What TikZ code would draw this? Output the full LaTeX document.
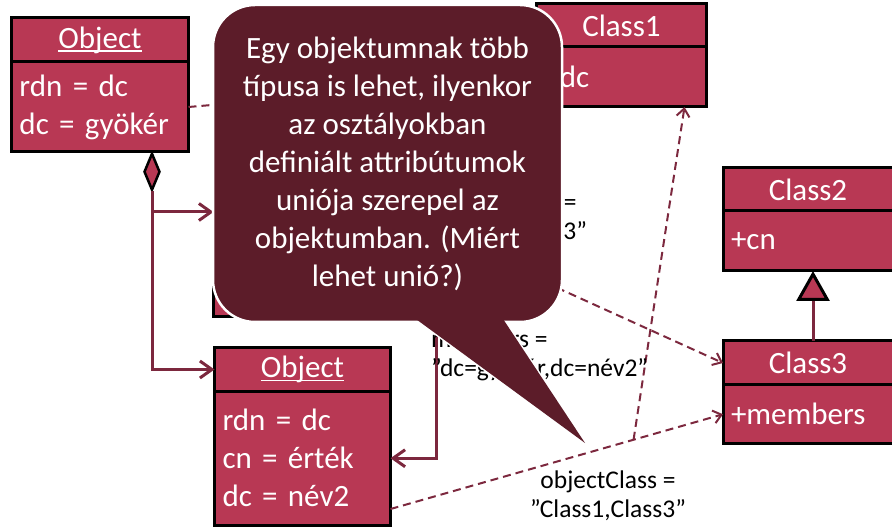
\documentclass[tikz,border=0pt]{standalone}
\usepackage{fontspec}
\setmainfont{Carlito}
\usetikzlibrary{arrows.meta,positioning,shapes.geometric,calc}
\definecolor{umlred}{RGB}{184,56,84}
\definecolor{notebg}{RGB}{92,28,41}
\definecolor{linkcol}{RGB}{124,40,62}
\newcommand{\uobj}[1]{\setbox0\hbox{#1}\rlap{\rule[-3.5pt]{\wd0}{1.3pt}}\box0}

\begin{document}
\begin{tikzpicture}[x=1pt,y=-1pt,
  hdr/.style={draw=black,line width=3pt,fill=umlred,text=white,inner sep=0pt,outer sep=0pt,font=\fontsize{31}{38}\selectfont},
  attr/.style={hdr,align=left,inner xsep=8pt},
  dmd/.style={diamond,draw=black,line width=2.5pt,fill=umlred,inner sep=0pt,minimum width=16pt,minimum height=37pt},
  comp/.style={draw=linkcol,line width=3pt,-{Straight Barb[length=12pt,width=17pt]}},
  dep/.style={draw=linkcol,line width=2pt,dash pattern=on 8pt off 5pt,-{Straight Barb[length=8pt,width=13pt]}},
  gen/.style={draw=linkcol,line width=3pt,-{Triangle[length=30pt,width=33pt,fill=umlred,color=black,line width=3pt]}},
  lbl/.style={font=\fontsize{25.5}{29}\selectfont,inner sep=0pt},
  note/.style={rounded corners=42pt,fill=notebg,draw=white,line width=2.5pt,text=white,align=center,
    font=\fontsize{31}{38}\selectfont,minimum width=349pt,minimum height=317pt,inner sep=0pt}
]
\useasboundingbox (0,0) rectangle (892,529);

% objects
\node[hdr,minimum width=177pt,minimum height=44pt] (o1h) at (100,40) {\uobj{Object}};
\node[attr,below=0pt of o1h,text width=161pt,minimum height=90pt] (o1b) {rdn = dc\\dc = gyökér};
\node[hdr,minimum width=225pt,minimum height=44pt] (midh) at (326,212) {};
\node[attr,below=0pt of midh,text width=209pt,minimum height=82.5pt] (midb) {};
\node[hdr,minimum width=176pt,minimum height=44pt] (o3h) at (302.5,369.5) {\uobj{Object}};
\node[attr,below=0pt of o3h,text width=160pt,minimum height=133.5pt] (o3b) {rdn = dc\\cn = érték\\dc = név2};

% classes
\node[hdr,minimum width=170pt,minimum height=43pt] (c1h) at (621.5,25.5) {Class1};
\node[attr,below=0pt of c1h,text width=154pt,minimum height=60pt] (c1b) {+dc};
\node[hdr,minimum width=170pt,minimum height=43pt] (c2h) at (808,189.5) {Class2};
\node[attr,below=0pt of c2h,text width=154pt,minimum height=60pt] (c2b) {+cn};
\node[hdr,below=70pt of c2b,minimum width=170pt,minimum height=44pt] (c3h) {Class3};
\node[attr,below=0pt of c3h,text width=154pt,minimum height=58.5pt] (c3b) {+members};

% composition
\node[dmd,anchor=north] (dia) at ([xshift=52pt]o1b.south) {};
\draw[comp] (dia.south) |- (midh.west);
\draw[comp] (dia.south) |- (o3h.west);
\draw[comp] ([xshift=-2.5pt]midb.south east) |- (o3b.east);
\draw[gen] ([xshift=5pt]c3h.north) -- ([xshift=5pt]c2b.south);

% objectClass links
\coordinate (o3s) at ([yshift=16pt]o3b.south east);
\draw[dep] (o1b.east) -- (c1b.west);
\draw[dep] (midh.south east) -- (c3h.west);
\draw[dep] (o3s) -- (c3b.west);
\draw[dep] ($(o3s)!0.731!(c3b.west)$) -- ([xshift=-22pt]c1b.south east);

\node[lbl,align=center] (oc2) at (509,218) {objectClass =\\”Class1,Class3”};
\node[lbl,align=left,anchor=west] (mem) at (431,355) {members =\\”dc=gyökér,dc=név2”};
\node[lbl,align=center] (oc3) at (608,496) {objectClass =\\”Class1,Class3”};

% callout
\node[note] (note) at (387.5,163.5) {Egy objektumnak több\\típusa is lehet, ilyenkor\\az osztályokban\\definiált attribútumok\\uniója szerepel az\\objektumban. (Miért\\lehet unió?)};
\coordinate (tip) at (585,443);
\draw[white,line width=3pt] (420,322) -- (tip) -- (505,322);
\fill[notebg] (403.6,310) -- (tip) -- (497.1,310) -- cycle;
\end{tikzpicture}
\end{document}
